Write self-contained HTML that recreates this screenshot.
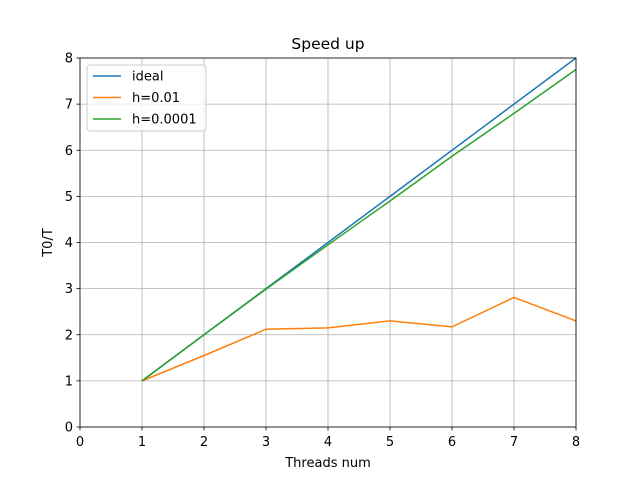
<!DOCTYPE html>
<html><head><meta charset="utf-8"><style>body{margin:0;background:#fff}svg{display:block;font-family:"DejaVu Sans","Liberation Sans",sans-serif}</style></head>
<body>
<svg id="chart" width="640" height="480"></svg>
<script>
const threads=[1,2,3,4,5,6,7,8];
const ideal=[1,2,3,4,5,6,7,8];
const h001=[1,1.55,2.12,2.15,2.3,2.17,2.81,2.3];
const h00001=[1,2,2.99,3.95,4.9,5.87,6.8,7.75];
const xTicks=[0,1,2,3,4,5,6,7,8];
const yTicks=[0,1,2,3,4,5,6,7,8];
const seriesNames=["ideal","h=0.01","h=0.0001"];
const colors=["#1f77b4","#ff7f0e","#2ca02c"];
const L=80,R=576,T=58,B=427;
const sx=v=>L+(v-0)/(8-0)*(R-L);
const sy=v=>B-(v-0)/(8-0)*(B-T);
const svg=document.getElementById('chart');
const NS="http://www.w3.org/2000/svg";
function mk(tag,attrs,parent){const e=document.createElementNS(NS,tag);for(const k in attrs)e.setAttribute(k,attrs[k]);(parent||svg).appendChild(e);return e;}
xTicks.forEach(v=>{
 const g=mk('line',{x1:sx(v),x2:sx(v),y1:T,y2:B,stroke:'#b0b0b0','stroke-width':0.8});
 
 
 mk('line',{x1:sx(v),x2:sx(v),y1:B,y2:B+3.5,stroke:'#000','stroke-width':0.8});
 const t=mk('text',{x:sx(v),y:B+19,'text-anchor':'middle','font-size':13});t.textContent=v;
 
 
});
yTicks.forEach(v=>{
 const g=mk('line',{x1:L,x2:R,y1:sy(v),y2:sy(v),stroke:'#b0b0b0','stroke-width':0.8});
 
 
 mk('line',{x1:L-3.5,x2:L,y1:sy(v),y2:sy(v),stroke:'#000','stroke-width':0.8});
 const t=mk('text',{x:L-7,y:sy(v)+4.5,'text-anchor':'end','font-size':13});t.textContent=v;
 
 
});
[ideal,h001,h00001].forEach((s,i)=>{
 const p=mk('polyline',{points:s.map((v,j)=>sx(threads[j])+','+sy(v)).join(' '),fill:'none',stroke:colors[i],'stroke-width':1.5});
 
 
});
const fr=mk('rect',{x:L,y:T,width:R-L,height:B-T,fill:'none',stroke:'#000','stroke-width':0.8});


const ti=mk('text',{x:(L+R)/2,y:T-9,'text-anchor':'middle','font-size':15.5});ti.textContent='Speed up';


const xl=mk('text',{x:(L+R)/2,y:467,'text-anchor':'middle','font-size':13});xl.textContent='Threads num';


const yl=mk('text',{x:0,y:0,'text-anchor':'middle','font-size':13,transform:`translate(52,${(T+B)/2}) rotate(-90)`});yl.textContent='T0/T';


const lg=mk('g',{});


mk('rect',{x:87,y:65,width:119,height:66,rx:3,fill:'#fff','fill-opacity':0.8,stroke:'#ccc','stroke-width':1},lg);
seriesNames.forEach((n,i)=>{
 const y=76+i*21.5;
 mk('line',{x1:93,x2:121,y1:y,y2:y,stroke:colors[i],'stroke-width':1.5},lg);
 const t=mk('text',{x:132,y:y+4.5,'font-size':13},lg);t.textContent=n;
 
 
});
</script>
</body></html>
